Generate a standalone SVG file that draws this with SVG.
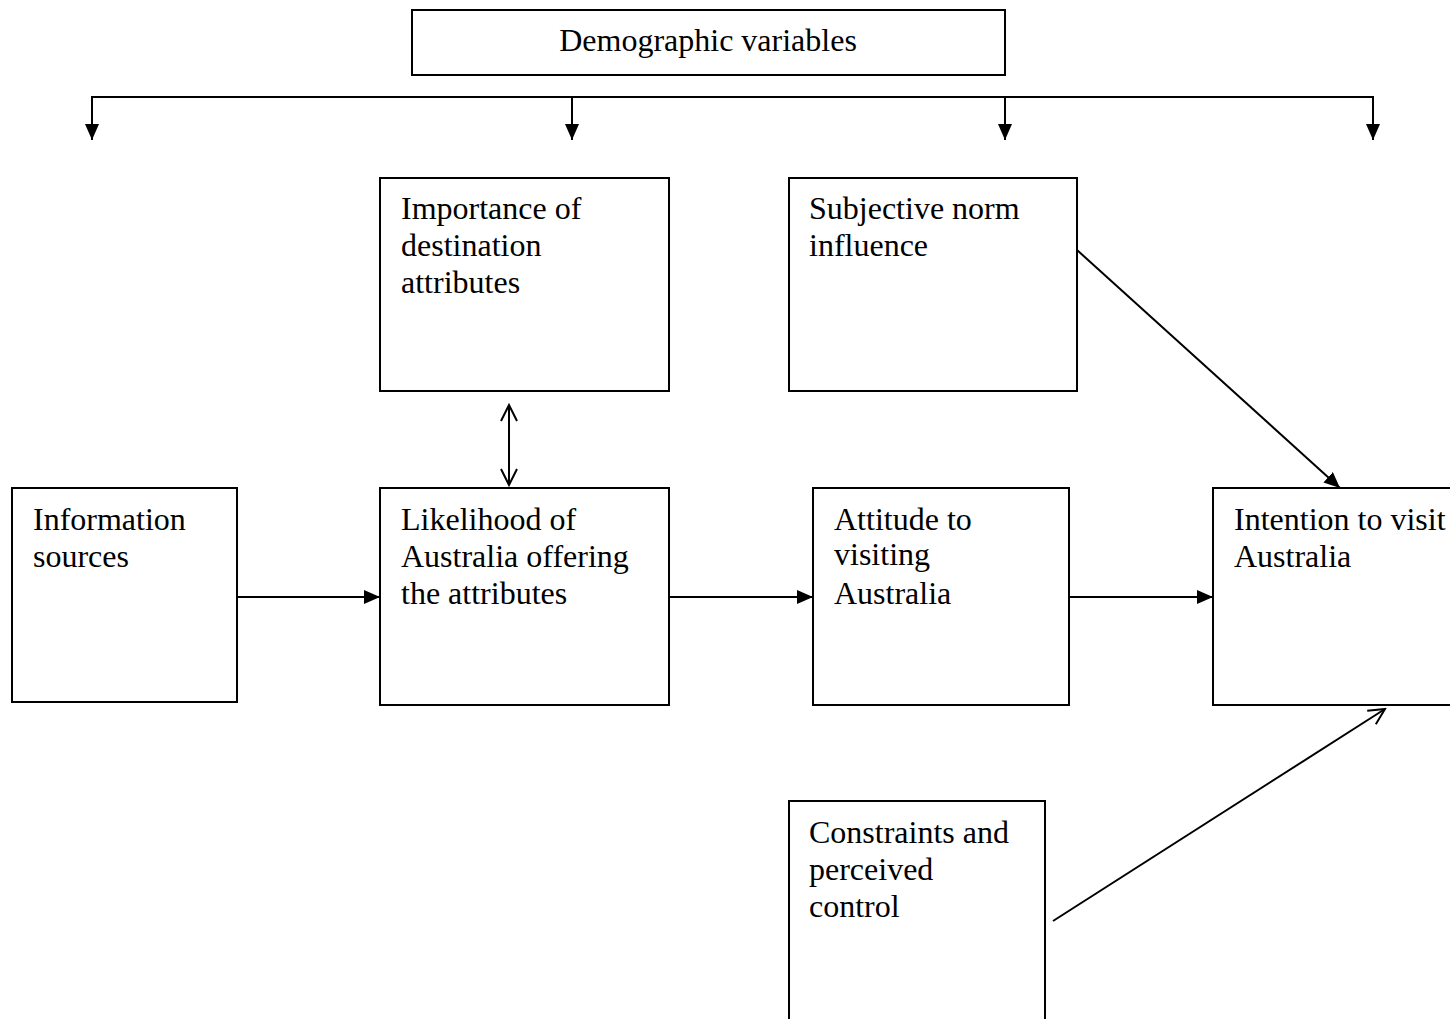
<svg xmlns="http://www.w3.org/2000/svg" width="1450" height="1019" viewBox="0 0 1450 1019">
<style>
.box{fill:#fff;stroke:#000;stroke-width:2}
.t{font-family:"Liberation Serif","Times New Roman",serif;font-size:32px;fill:#000}
.c{stroke:#000;stroke-width:2;fill:none}
</style>
<defs>
<marker id="fillL" viewBox="0 0 16 14" refX="16" refY="7" markerWidth="16" markerHeight="14" markerUnits="userSpaceOnUse" orient="auto">
<path d="M0,0 L16,7 L0,14 z" fill="#000"/>
</marker>
<marker id="open" viewBox="0 0 20 20" refX="18" refY="10" markerWidth="20" markerHeight="20" markerUnits="userSpaceOnUse" orient="auto-start-reverse">
<path d="M2,2 L18,10 L2,18" fill="none" stroke="#000" stroke-width="2"/>
</marker>
</defs>
<rect width="1450" height="1019" fill="#fff"/>
<g id="connectors">
<path class="c" d="M92,138 V97 H1373 V138"/>
<path class="c" d="M92,120 V140" marker-end="url(#fillL)"/>
<path class="c" d="M572,97 V140" marker-end="url(#fillL)"/>
<path class="c" d="M1005,97 V140" marker-end="url(#fillL)"/>
<path class="c" d="M1373,120 V140" marker-end="url(#fillL)"/>
<line class="c" x1="509" y1="405" x2="509" y2="485" marker-start="url(#open)" marker-end="url(#open)"/>
<line class="c" x1="237" y1="597" x2="380" y2="597" marker-end="url(#fillL)"/>
<line class="c" x1="669" y1="597" x2="813" y2="597" marker-end="url(#fillL)"/>
<line class="c" x1="1069" y1="597" x2="1213" y2="597" marker-end="url(#fillL)"/>
<line class="c" x1="1077" y1="250" x2="1340" y2="488" marker-end="url(#fillL)"/>
<line class="c" x1="1053" y1="921" x2="1385" y2="709" marker-end="url(#open)"/>
</g>
<g id="demographic">
<rect class="box" x="412" y="10" width="593" height="65"/>
<text class="t" x="708" y="51" text-anchor="middle">Demographic variables</text>
</g>
<g id="importance">
<rect class="box" x="380" y="178" width="289" height="213"/>
<text class="t" x="401" y="219">Importance of</text>
<text class="t" x="401" y="256">destination</text>
<text class="t" x="401" y="293">attributes</text>
</g>
<g id="subjective">
<rect class="box" x="789" y="178" width="288" height="213"/>
<text class="t" x="809" y="219">Subjective norm</text>
<text class="t" x="809" y="256">influence</text>
</g>
<g id="information">
<rect class="box" x="12" y="488" width="225" height="214"/>
<text class="t" x="33" y="530">Information</text>
<text class="t" x="33" y="567">sources</text>
</g>
<g id="likelihood">
<rect class="box" x="380" y="488" width="289" height="217"/>
<text class="t" x="401" y="530">Likelihood of</text>
<text class="t" x="401" y="567">Australia offering</text>
<text class="t" x="401" y="604">the attributes</text>
</g>
<g id="attitude">
<rect class="box" x="813" y="488" width="256" height="217"/>
<text class="t" x="834" y="530">Attitude to</text>
<text class="t" x="834" y="565">visiting</text>
<text class="t" x="834" y="604">Australia</text>
</g>
<g id="intention">
<rect class="box" x="1213" y="488" width="250" height="217"/>
<text class="t" x="1234" y="530">Intention to visit</text>
<text class="t" x="1234" y="567">Australia</text>
</g>
<g id="constraints">
<rect class="box" x="789" y="801" width="256" height="230"/>
<text class="t" x="809" y="843">Constraints and</text>
<text class="t" x="809" y="880">perceived</text>
<text class="t" x="809" y="917">control</text>
</g>
</svg>
